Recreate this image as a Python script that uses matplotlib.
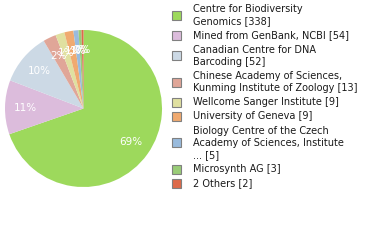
import matplotlib
matplotlib.use("Agg")
import matplotlib.pyplot as plt
from matplotlib.patches import Rectangle

labels = ["Centre for Biodiversity\nGenomics [338]",
          "Mined from GenBank, NCBI [54]",
          "Canadian Centre for DNA\nBarcoding [52]",
          "Chinese Academy of Sciences,\nKunming Institute of Zoology [13]",
          "Wellcome Sanger Institute [9]",
          "University of Geneva [9]",
          "Biology Centre of the Czech\nAcademy of Sciences, Institute\n... [5]",
          "Microsynth AG [3]",
          "2 Others [2]"]
values = [338, 54, 52, 13, 9, 9, 5, 3, 2]
colors = ["#9dd95c", "#dcbcdc", "#ccd9e5", "#e0a698", "#e0e0a0",
          "#f0aa70", "#99bbdd", "#99cc77", "#dd6a4a"]

plt.rcParams['font.family'] = ['DejaVu Sans']
W, H = 380, 240
fig = plt.figure(figsize=(W/100, H/100), dpi=100)
ax = fig.add_axes([5/W, (H-187)/H, 157/W, 157/H])
wedges, texts, autotexts = ax.pie(values, colors=colors, startangle=90,
                                  counterclock=False,
                                  autopct=lambda p: f"{int(p)}%",
                                  pctdistance=0.74,
                                  wedgeprops=dict(linewidth=0),
                                  textprops=dict(color="white", fontsize=7.5))
ax.set_xlim(-1, 1)
ax.set_ylim(-1, 1)
ax.set_aspect("equal")

# legend drawn in figure pixel coordinates
L = 12.3   # line step (px)
G = 1.8    # gap between entries (px)
fs = 7.0
top = 9 - L / 2
for w, lab in zip(wedges, labels):
    n = lab.count("\n") + 1
    yc = top + n * L / 2
    fig.patches.append(Rectangle((172 / W, 1 - (yc + 4.5) / H), 9 / W, 9 / H,
                                 transform=fig.transFigure,
                                 facecolor=w.get_facecolor(),
                                 edgecolor="#808080", linewidth=0.8))
    fig.text(193 / W, 1 - yc / H, lab, fontsize=fs, va="center", ha="left",
             linespacing=L / (fs * 100 / 72), color="#1a1a1a")
    top += n * L + G

fig.savefig("out.png", dpi=100)
